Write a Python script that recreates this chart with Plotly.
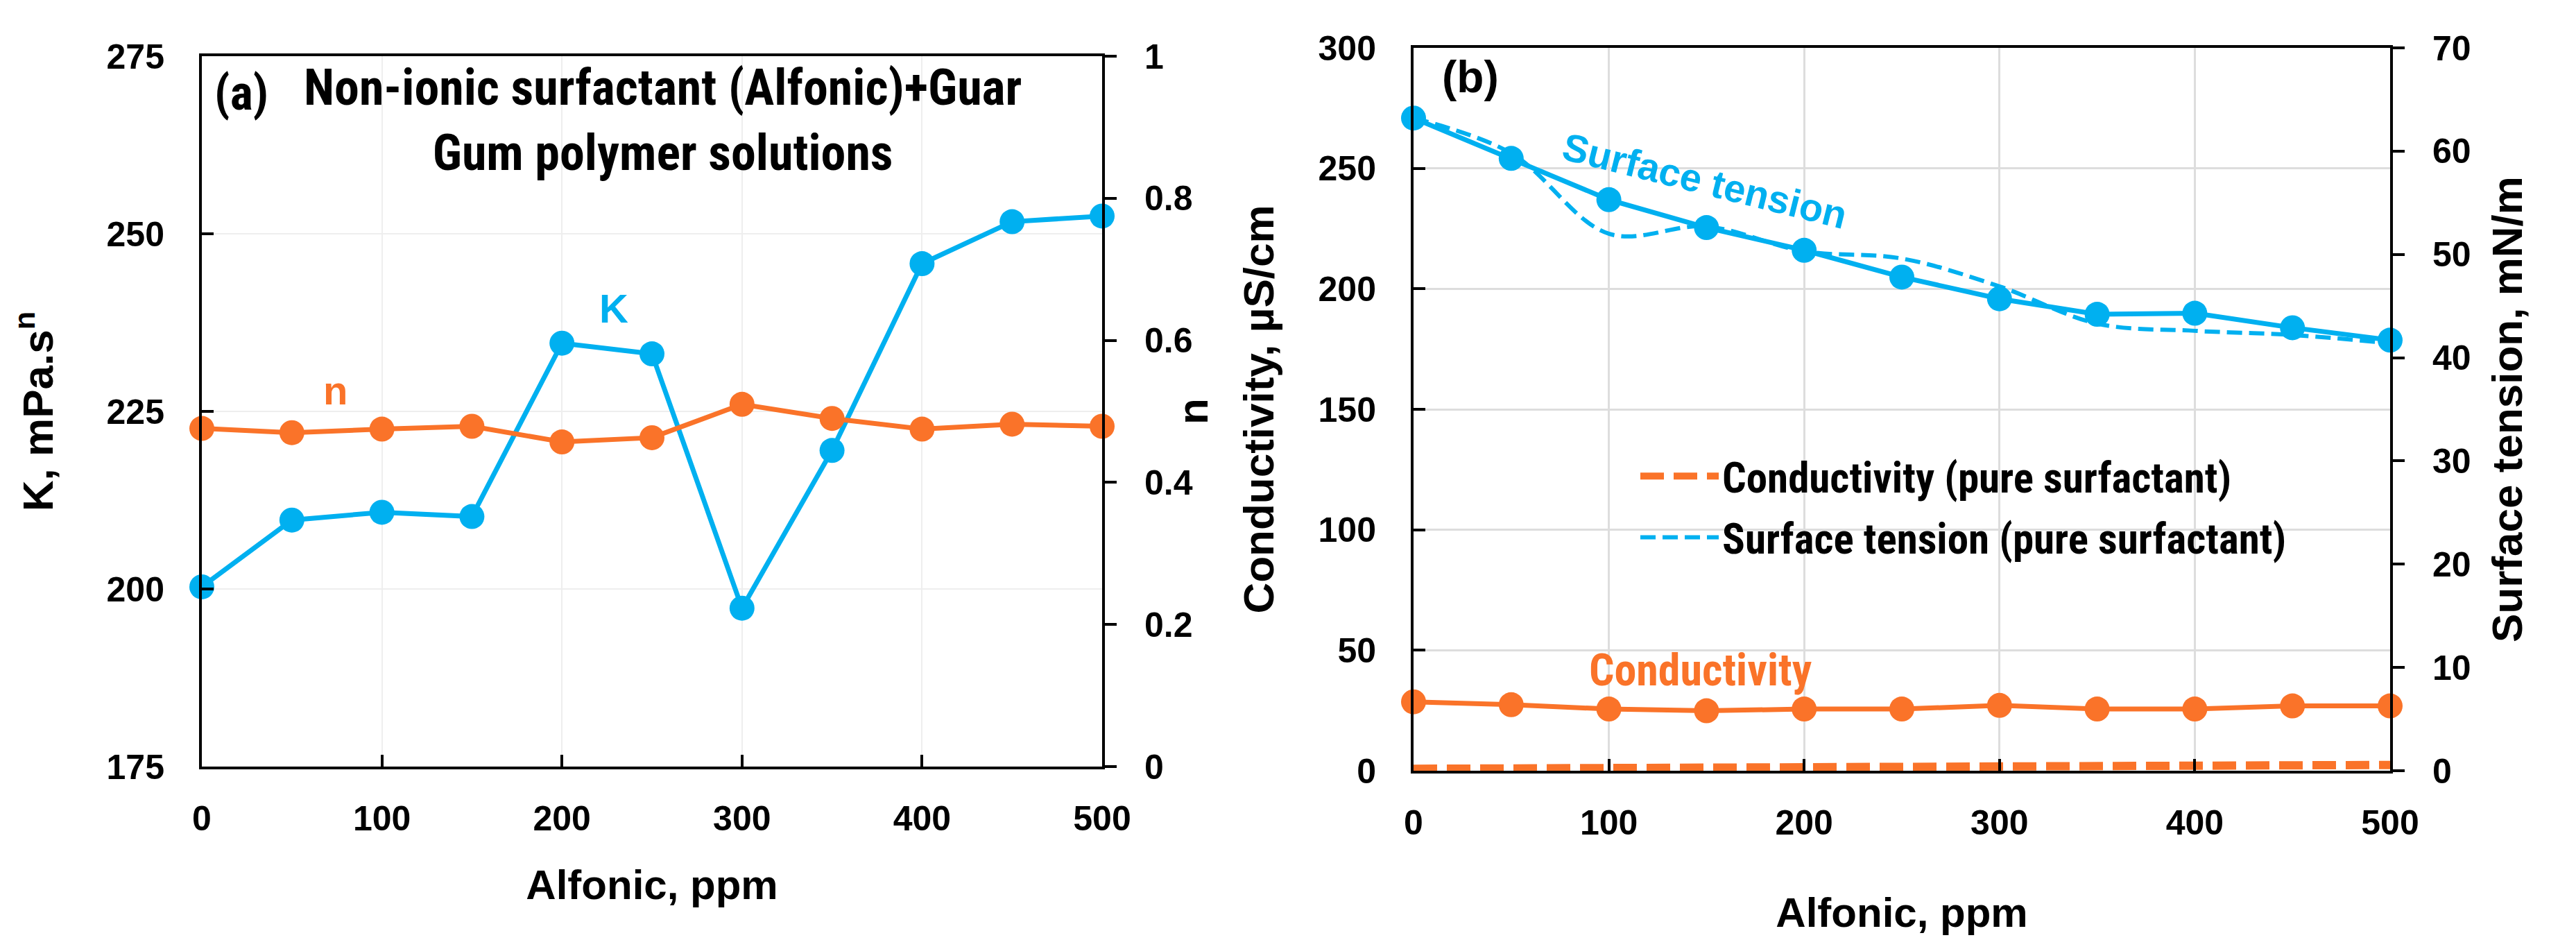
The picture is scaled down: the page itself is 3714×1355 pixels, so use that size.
import plotly.graph_objects as go

# ---------------- data ----------------
alfonic_ppm = [0, 50, 100, 150, 200, 250, 300, 350, 400, 450, 500]
k_values = [200.3, 209.7, 210.8, 210.2, 234.6, 233.1, 197.3, 219.5, 245.8, 251.7, 252.5]
n_values = [0.476, 0.470, 0.475, 0.479, 0.457, 0.463, 0.510, 0.490, 0.475, 0.482, 0.479]
conductivity = [28.6, 27.4, 25.6, 24.9, 25.6, 25.6, 27.1, 25.6, 25.6, 26.9, 26.9]
conductivity_pure = [0.8, 0.9, 1.0, 1.1, 1.2, 1.4, 1.6, 1.8, 2.0, 2.2, 2.4]
surface_tension = [63.2, 59.3, 55.3, 52.6, 50.4, 47.8, 45.7, 44.2, 44.3, 42.9, 41.7]
surface_tension_pure = [63.2, 59.8, 52.0, 52.7, 50.3, 49.6, 46.9, 43.3, 42.6, 42.2, 41.4]

x_ticks = [0, 100, 200, 300, 400, 500]
k_ticks = [175, 200, 225, 250, 275]
n_ticks = [0, 0.2, 0.4, 0.6, 0.8, 1]
cond_ticks = [0, 50, 100, 150, 200, 250, 300]
st_ticks = [0, 10, 20, 30, 40, 50, 60, 70]

# ---------------- style ----------------
W, H = 3714, 1355
BLUE = "#00B0F0"
ORANGE = "#FA7329"
WIDE = "Liberation Sans, Arial, sans-serif"
NARROW = "Liberation Sans Narrow, Arial Narrow, Roboto Condensed, DejaVu Sans Condensed, sans-serif"
TICKFONT = dict(family=WIDE, size=50, color="black", weight="bold")
TITLEFONT = dict(family=WIDE, size=62, color="black", weight="bold")
XTITLEFONT = dict(family=WIDE, size=60, color="black", weight="bold")


def px_dom_x(a, b):
    return [a / W, b / W]


def px_dom_y(top, bottom):
    return [1 - bottom / H, 1 - top / H]


fig = go.Figure()

# ---- panel (a) ----
fig.add_trace(go.Scatter(x=alfonic_ppm, y=k_values, xaxis="x", yaxis="y", name="K",
                         mode="lines+markers", line=dict(color=BLUE, width=7),
                         marker=dict(size=36, color=BLUE), cliponaxis=False, showlegend=False))
fig.add_trace(go.Scatter(x=alfonic_ppm, y=n_values, xaxis="x", yaxis="y2", name="n",
                         mode="lines+markers", line=dict(color=ORANGE, width=7),
                         marker=dict(size=36, color=ORANGE), cliponaxis=False, showlegend=False))

# ---- panel (b) ----
fig.add_trace(go.Scatter(x=alfonic_ppm, y=conductivity, xaxis="x2", yaxis="y3", name="Conductivity",
                         mode="lines+markers", line=dict(color=ORANGE, width=7),
                         marker=dict(size=36, color=ORANGE), cliponaxis=False, showlegend=False))
fig.add_trace(go.Scatter(x=alfonic_ppm, y=conductivity_pure, xaxis="x2", yaxis="y3",
                         name="Conductivity (pure surfactant)", legendgroup="a",
                         mode="lines", line=dict(color=ORANGE, width=12, dash="34px,14px"),
                         cliponaxis=False, showlegend=True))
fig.add_trace(go.Scatter(x=alfonic_ppm, y=surface_tension_pure, xaxis="x2", yaxis="y4",
                         name="Surface tension (pure surfactant)", legendgroup="b",
                         mode="lines", line=dict(color=BLUE, width=6, dash="22px,10px", shape="spline"),
                         cliponaxis=False, showlegend=True))
fig.add_trace(go.Scatter(x=alfonic_ppm, y=surface_tension, xaxis="x2", yaxis="y4", name="Surface tension",
                         mode="lines+markers", line=dict(color=BLUE, width=7),
                         marker=dict(size=36, color=BLUE), cliponaxis=False, showlegend=False))

common_x = dict(range=[0, 500], tickvals=x_ticks, ticks="inside", ticklen=17, tickwidth=4, tickcolor="black",
                showline=True, linewidth=4, linecolor="black", mirror=True, zeroline=False,
                tickfont=TICKFONT, ticklabelstandoff=28, automargin=False)
common_yl = dict(ticks="inside", ticklen=17, tickwidth=4, tickcolor="black", showline=True, linewidth=4,
                 linecolor="black", zeroline=False, tickfont=TICKFONT, ticklabelstandoff=40, automargin=False)
common_yr = dict(ticks="outside", ticklen=17, tickwidth=4, tickcolor="black", showline=True, linewidth=4,
                 linecolor="black", zeroline=False, showgrid=False, tickfont=TICKFONT,
                 ticklabelstandoff=30, automargin=False, side="right")

fig.update_layout(
    width=W, height=H,
    margin=dict(l=0, r=0, t=0, b=0),
    paper_bgcolor="white", plot_bgcolor="white",
    xaxis=dict(domain=px_dom_x(283, 1581), anchor="y", showgrid=True, gridcolor="#eeeeee", gridwidth=2,
               title=dict(text="Alfonic, ppm", font=XTITLEFONT, standoff=48), **common_x),
    yaxis=dict(domain=px_dom_y(73, 1097), anchor="x", range=[175, 275], tickvals=k_ticks,
               showgrid=True, gridcolor="#eeeeee", gridwidth=2,
               title=dict(text="K, mPa.s<sup>n</sup>", font=TITLEFONT, standoff=58), **common_yl),
    yaxis2=dict(overlaying="y", anchor="x", range=[0, 1], tickvals=n_ticks, **common_yr),
    xaxis2=dict(domain=px_dom_x(2030, 3438), anchor="y3", showgrid=True, gridcolor="#dddddd", gridwidth=3,
                title=dict(text="Alfonic, ppm", font=XTITLEFONT, standoff=82), **common_x),
    yaxis3=dict(domain=px_dom_y(61, 1103), anchor="x2", range=[0, 300], tickvals=cond_ticks,
                showgrid=True, gridcolor="#dddddd", gridwidth=3,
                title=dict(text="Conductivity, µS/cm", font=TITLEFONT, standoff=45), **common_yl),
    yaxis4=dict(overlaying="y3", anchor="x2", range=[0, 70], tickvals=st_ticks,
                title=dict(text="Surface tension, mN/m", font=TITLEFONT, standoff=32), **common_yr),
    legend=dict(x=2352 / W, y=1 - 632 / H, xanchor="left", yanchor="top", bgcolor="rgba(0,0,0,0)",
                font=dict(family=NARROW, size=61, color="black", weight="bold"),
                itemwidth=113, tracegroupgap=6, traceorder="grouped"),
    showlegend=True,
)

ann_font = dict(family=NARROW, size=72, color="black", weight="bold")
# right-axis title of panel (a), placed close to its tick labels as in the original
fig.add_annotation(x=1712 / W, y=1 - 585 / H, xref="paper", yref="paper", text="n", showarrow=False,
                   textangle=-90, font=TITLEFONT)
fig.add_annotation(x=22.0, y=269.8, xref="x", yref="y", text="(a)", showarrow=False,
                   font=dict(family=NARROW, size=70, color="black", weight="bold"))
fig.add_annotation(x=256, y=266.0, xref="x", yref="y",
                   text="Non-ionic surfactant (Alfonic)+Guar<br>Gum polymer solutions",
                   showarrow=False, align="center", font=ann_font)
fig.add_annotation(x=229, y=239.5, xref="x", yref="y", text="K", showarrow=False,
                   font=dict(family=WIDE, size=58, color=BLUE, weight="bold"))
fig.add_annotation(x=74, y=228, xref="x", yref="y", text="n", showarrow=False,
                   font=dict(family=WIDE, size=58, color=ORANGE, weight="bold"))
fig.add_annotation(x=29, y=288, xref="x2", yref="y3", text="(b)", showarrow=False,
                   font=dict(family=WIDE, size=64, color="black", weight="bold"))
fig.add_annotation(x=149, y=245, xref="x2", yref="y3", text="Surface tension", showarrow=False,
                   textangle=14, font=dict(family=WIDE, size=56, color=BLUE, weight="bold"))
fig.add_annotation(x=147, y=41.6, xref="x2", yref="y3", text="Conductivity", showarrow=False,
                   font=dict(family=NARROW, size=64, color=ORANGE, weight="bold"))

fig.write_html("out.html")
